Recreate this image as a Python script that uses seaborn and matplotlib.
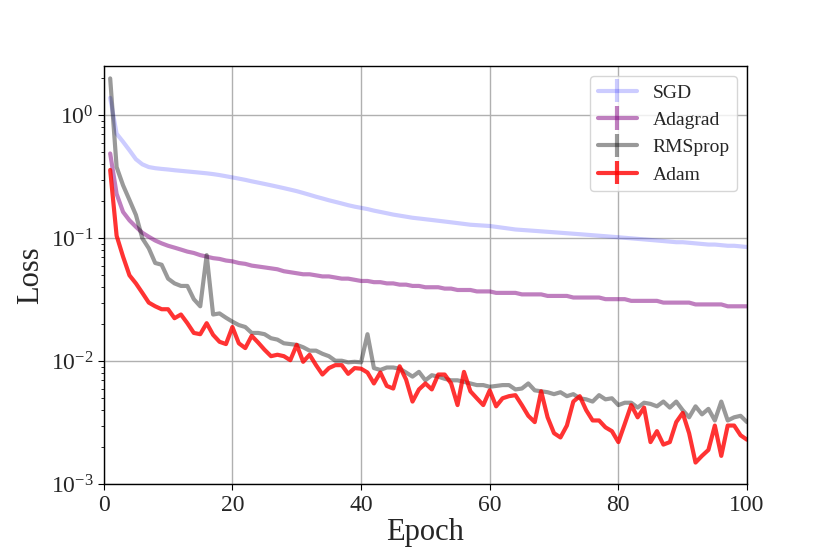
import numpy as np
import pandas as pd
import seaborn as sns
import matplotlib
matplotlib.use("Agg")
import matplotlib.pyplot as plt
from matplotlib.legend_handler import HandlerErrorbar
from matplotlib.container import ErrorbarContainer

sns.set_style("ticks")
plt.rcParams["font.family"] = ["Liberation Serif", "DejaVu Serif"]
plt.rcParams["mathtext.fontset"] = "stix"

epochs = list(range(1, 101))

sgd = [1.39, 0.71, 0.61, 0.52, 0.44, 0.40, 0.38, 0.372, 0.367, 0.363,
       0.358, 0.354, 0.350, 0.346, 0.342, 0.338, 0.333, 0.327, 0.320, 0.313,
       0.306, 0.299, 0.291, 0.284, 0.277, 0.270, 0.263, 0.256, 0.249, 0.242,
       0.234, 0.226, 0.218, 0.211, 0.204, 0.198, 0.192, 0.186, 0.181, 0.177,
       0.173, 0.168, 0.164, 0.160, 0.156, 0.153, 0.150, 0.147, 0.145, 0.143,
       0.141, 0.139, 0.137, 0.135, 0.133, 0.131, 0.129, 0.128, 0.127, 0.126,
       0.124, 0.122, 0.120, 0.118, 0.117, 0.116, 0.115, 0.114, 0.113, 0.112,
       0.111, 0.110, 0.109, 0.108, 0.107, 0.106, 0.105, 0.104, 0.103, 0.102,
       0.101, 0.100, 0.099, 0.098, 0.097, 0.096, 0.095, 0.094, 0.093, 0.093,
       0.092, 0.091, 0.090, 0.089, 0.089, 0.088, 0.087, 0.087, 0.086, 0.085]

adagrad = [0.49, 0.23, 0.164, 0.14, 0.124, 0.111, 0.103, 0.096, 0.091, 0.087,
           0.084, 0.081, 0.078, 0.076, 0.073, 0.071, 0.069, 0.068, 0.066, 0.065,
           0.063, 0.062, 0.060, 0.059, 0.058, 0.057, 0.056, 0.054, 0.053, 0.052,
           0.051, 0.051, 0.050, 0.049, 0.049, 0.048, 0.047, 0.047, 0.046, 0.045,
           0.045, 0.044, 0.044, 0.043, 0.043, 0.042, 0.042, 0.041, 0.041, 0.040,
           0.040, 0.040, 0.039, 0.039, 0.038, 0.038, 0.038, 0.037, 0.037, 0.037,
           0.036, 0.036, 0.036, 0.036, 0.035, 0.035, 0.035, 0.035, 0.034, 0.034,
           0.034, 0.034, 0.033, 0.033, 0.033, 0.033, 0.033, 0.032, 0.032, 0.032,
           0.032, 0.031, 0.031, 0.031, 0.031, 0.031, 0.030, 0.030, 0.030, 0.030,
           0.030, 0.029, 0.029, 0.029, 0.029, 0.029, 0.028, 0.028, 0.028, 0.028]

rmsprop = [2.0, 0.38, 0.27, 0.205, 0.155, 0.10, 0.083, 0.063, 0.061, 0.047,
           0.043, 0.041, 0.041, 0.032, 0.028, 0.073, 0.024, 0.0245, 0.0226, 0.021,
           0.0197, 0.019, 0.017, 0.017, 0.0166, 0.0154, 0.015, 0.014, 0.0138, 0.0136,
           0.013, 0.0122, 0.0122, 0.0115, 0.011, 0.0101, 0.0101, 0.0098, 0.0099, 0.0098,
           0.0166, 0.0088, 0.0085, 0.0089, 0.0089, 0.0087, 0.0081, 0.0075, 0.0082, 0.0070,
           0.0077, 0.0075, 0.0072, 0.0070, 0.0070, 0.0068, 0.0066, 0.0064, 0.0064, 0.0062,
           0.0063, 0.0064, 0.0064, 0.0059, 0.0060, 0.0066, 0.0058, 0.0057, 0.0056, 0.0054,
           0.0056, 0.0052, 0.0054, 0.0050, 0.0049, 0.0047, 0.0053, 0.0049, 0.0050, 0.0044,
           0.0046, 0.0046, 0.0042, 0.0046, 0.0045, 0.0043, 0.0047, 0.0042, 0.0047, 0.0040,
           0.0035, 0.0043, 0.0037, 0.0041, 0.0033, 0.0047, 0.0033, 0.0035, 0.0036, 0.0032]

adam = [0.36, 0.105, 0.071, 0.050, 0.043, 0.036, 0.030, 0.028, 0.0265, 0.0265,
        0.0224, 0.024, 0.0204, 0.017, 0.0166, 0.0204, 0.0164, 0.0144, 0.0138, 0.019,
        0.014, 0.0128, 0.0161, 0.0142, 0.0124, 0.011, 0.0113, 0.011, 0.0102, 0.0136,
        0.0099, 0.0113, 0.0093, 0.0078, 0.0088, 0.0093, 0.0093, 0.0079, 0.0088, 0.0087,
        0.0081, 0.0066, 0.0081, 0.0063, 0.0060, 0.0091, 0.0071, 0.0047, 0.0059, 0.0066,
        0.0059, 0.0078, 0.0078, 0.0066, 0.0044, 0.0082, 0.0057, 0.0050, 0.0044, 0.0058,
        0.0043, 0.0050, 0.0052, 0.0053, 0.0044, 0.0036, 0.0032, 0.0057, 0.0035, 0.0026,
        0.0024, 0.0030, 0.0047, 0.0052, 0.0040, 0.0033, 0.0033, 0.0029, 0.0027, 0.0022,
        0.0031, 0.0044, 0.0035, 0.0042, 0.0022, 0.0027, 0.0021, 0.0022, 0.0032, 0.0038,
        0.0026, 0.0015, 0.0017, 0.0019, 0.0030, 0.0017, 0.0030, 0.0030, 0.0025, 0.0023]

names = ["SGD", "Adagrad", "RMSprop", "Adam"]
series = [sgd, adagrad, rmsprop, adam]
colors = ["blue", "purple", "black", "red"]
alphas = [0.2, 0.5, 0.4, 0.8]

fig, ax = plt.subplots(figsize=(8.3, 5.54), dpi=100)
fig.subplots_adjust(left=0.125, right=0.9, top=0.88, bottom=0.126)

for name, vals, c, a in zip(names, series, colors, alphas):
    df = pd.DataFrame({"Epoch": epochs, "Loss": vals})
    sns.lineplot(data=df, x="Epoch", y="Loss", color=c, alpha=a, lw=3, ax=ax)
    # empty errorbar just for the legend handle style
    ax.errorbar([np.nan], [np.nan], yerr=[1.0], color=c, alpha=a, lw=3,
                elinewidth=3, label=name)

ax.set_yscale("log")
ax.set_xlim(0, 100)
ax.set_ylim(1e-3, 2.5)
ax.set_xticks([0, 20, 40, 60, 80, 100])
ax.grid(True, which="major", color="#b0b0b0", lw=1)
ax.grid(False, which="minor")
for s in ax.spines.values():
    s.set_color("black")
    s.set_linewidth(1)
ax.tick_params(axis="both", which="major", labelsize=17, direction="out", length=4, color="black")
ax.tick_params(axis="y", which="minor", direction="out", length=2.5, color="black")
ax.set_xlabel("Epoch", fontsize=22, labelpad=2)
ax.set_ylabel("Loss", fontsize=22)
ax.legend(loc="upper right", fontsize=14,
          handler_map={ErrorbarContainer: HandlerErrorbar(yerr_size=0.6)})

fig.savefig("out.png", dpi=100)
